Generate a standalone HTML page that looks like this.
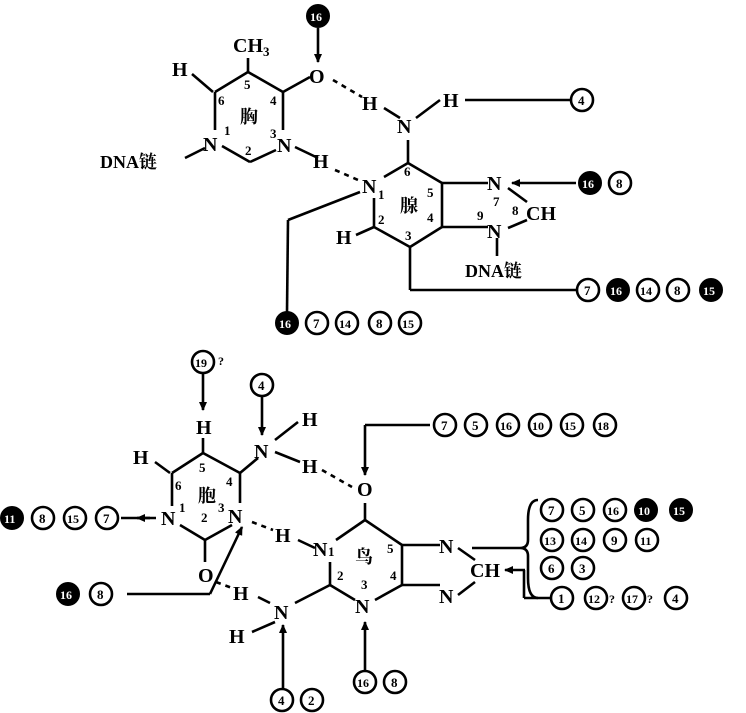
<!DOCTYPE html>
<html><head><meta charset="utf-8"><style>
html,body{margin:0;padding:0;background:#fff}
svg{display:block}
text{font-family:"Liberation Serif","Noto Serif CJK SC",serif;font-weight:bold;fill:#000}
.c{fill:#fff;stroke:#000;stroke-width:2.6}
.f{fill:#000;stroke:#000;stroke-width:2}
.l{stroke:#000;stroke-width:2.6;fill:none}
.d{stroke:#000;stroke-width:2.6;stroke-dasharray:5,5;fill:none}
.n{font-size:13px}
</style></head><body>
<svg width="746" height="713" viewBox="0 0 746 713" xmlns="http://www.w3.org/2000/svg">
<defs><marker id="a" markerWidth="9" markerHeight="8" refX="8" refY="4" orient="auto" markerUnits="userSpaceOnUse"><path d="M0,0 L9,4 L0,8 z" fill="#000"/></marker></defs>

<!-- ===== TOP: thymine ===== -->
<g class="l">
<line x1="248" y1="72" x2="283" y2="92"/><line x1="283" y1="92" x2="283" y2="130"/>
<line x1="276" y1="150" x2="250" y2="162"/><line x1="250" y1="162" x2="222" y2="146"/>
<line x1="215" y1="130" x2="215" y2="92"/><line x1="215" y1="92" x2="248" y2="72"/>
<line x1="248" y1="72" x2="248" y2="58"/><line x1="213" y1="92" x2="192" y2="74"/>
<line x1="283" y1="92" x2="310" y2="77"/><line x1="205" y1="148" x2="185" y2="158"/>
<line x1="295" y1="147" x2="318" y2="158"/>
<line x1="318" y1="28" x2="318" y2="62" marker-end="url(#a)"/>
</g>
<line class="d" x1="333" y1="80" x2="362" y2="97"/>
<line class="d" x1="335" y1="170" x2="358" y2="180"/>
<text x="233" y="52" font-size="20">CH<tspan font-size="13" dy="4">3</tspan></text>
<text x="172" y="76" font-size="20">H</text>
<text x="309" y="83" font-size="20">O</text>
<text x="203" y="151" font-size="20">N</text>
<text x="277" y="152" font-size="20">N</text>
<text x="313" y="168" font-size="20">H</text>
<text x="100" y="168" font-size="18">DNA链</text>
<text x="240" y="123" font-size="18">胸</text>
<text class="n" x="244" y="89">5</text><text class="n" x="218" y="105">6</text>
<text class="n" x="270" y="105">4</text><text class="n" x="224" y="135">1</text>
<text class="n" x="270" y="138">3</text><text class="n" x="245" y="155">2</text>
<circle class="f" cx="318" cy="16" r="11"/><text x="310" y="21" font-size="12" style="fill:#fff">16</text>

<!-- ===== TOP: adenine ===== -->
<g class="l">
<line x1="408" y1="163" x2="442" y2="183"/><line x1="442" y1="183" x2="442" y2="227"/>
<line x1="442" y1="227" x2="410" y2="247"/><line x1="410" y1="247" x2="374" y2="227"/>
<line x1="374" y1="227" x2="374" y2="198"/><line x1="384" y1="177" x2="408" y2="163"/>
<line x1="408" y1="163" x2="408" y2="140"/>
<line x1="400" y1="118" x2="384" y2="108"/><line x1="416" y1="118" x2="440" y2="100"/>
<line x1="374" y1="227" x2="356" y2="235"/>
<line x1="442" y1="183" x2="488" y2="183"/><line x1="442" y1="227" x2="488" y2="227"/>
<line x1="508" y1="188" x2="527" y2="202"/><line x1="508" y1="228" x2="527" y2="220"/>
<line x1="497" y1="238" x2="497" y2="256"/>
<line x1="465" y1="100" x2="570" y2="100"/>
<line x1="576" y1="183" x2="512" y2="183" marker-end="url(#a)"/>
<line x1="360" y1="192" x2="288" y2="220"/><line x1="288" y1="220" x2="287" y2="312"/>
<line x1="410" y1="247" x2="410" y2="290"/><line x1="410" y1="290" x2="576" y2="290"/>
</g>
<text x="397" y="133" font-size="20">N</text>
<text x="362" y="110" font-size="20">H</text>
<text x="443" y="107" font-size="20">H</text>
<text x="362" y="193" font-size="20">N</text><text class="n" x="378" y="199">1</text>
<text x="336" y="244" font-size="20">H</text>
<text x="400" y="212" font-size="18">腺</text>
<text class="n" x="404" y="176">6</text><text class="n" x="427" y="197">5</text>
<text class="n" x="427" y="222">4</text><text class="n" x="378" y="224">2</text>
<text class="n" x="405" y="240">3</text>
<text x="487" y="190" font-size="20">N</text><text class="n" x="493" y="206">7</text>
<text class="n" x="477" y="220">9</text>
<text x="487" y="238" font-size="20">N</text>
<text class="n" x="512" y="215">8</text>
<text x="526" y="220" font-size="20">CH</text>
<text x="465" y="277" font-size="18">DNA链</text>
<circle class="c" cx="582" cy="100" r="11"/><text x="578" y="105" font-size="13">4</text>
<circle class="f" cx="590" cy="183" r="11"/><text x="582" y="188" font-size="12" style="fill:#fff">16</text>
<circle class="c" cx="620" cy="183" r="11"/><text x="616" y="188" font-size="13">8</text>
<g>
<circle class="c" cx="588" cy="290" r="11"/><text x="584" y="295" font-size="13">7</text>
<circle class="f" cx="618" cy="290" r="11"/><text x="610" y="295" font-size="12" style="fill:#fff">16</text>
<circle class="c" cx="648" cy="290" r="11"/><text x="640" y="295" font-size="12">14</text>
<circle class="c" cx="678" cy="290" r="11"/><text x="674" y="295" font-size="13">8</text>
<circle class="f" cx="711" cy="290" r="11"/><text x="703" y="295" font-size="12" style="fill:#fff">15</text>
</g>
<g>
<circle class="f" cx="287" cy="323" r="11"/><text x="279" y="328" font-size="12" style="fill:#fff">16</text>
<circle class="c" cx="317" cy="323" r="11"/><text x="313" y="328" font-size="13">7</text>
<circle class="c" cx="347" cy="323" r="11"/><text x="339" y="328" font-size="12">14</text>
<circle class="c" cx="380" cy="323" r="11"/><text x="376" y="328" font-size="13">8</text>
<circle class="c" cx="410" cy="323" r="11"/><text x="402" y="328" font-size="12">15</text>
</g>

<!-- ===== BOTTOM: cytosine ===== -->
<g class="l">
<line x1="203" y1="453" x2="240" y2="473"/><line x1="240" y1="473" x2="240" y2="503"/>
<line x1="232" y1="525" x2="205" y2="540"/><line x1="205" y1="540" x2="180" y2="525"/>
<line x1="172" y1="506" x2="172" y2="473"/><line x1="172" y1="473" x2="203" y2="453"/>
<line x1="203" y1="453" x2="203" y2="438"/><line x1="170" y1="473" x2="155" y2="462"/>
<line x1="240" y1="473" x2="258" y2="458"/><line x1="275" y1="440" x2="298" y2="422"/>
<line x1="275" y1="452" x2="300" y2="462"/>
<line x1="205" y1="540" x2="205" y2="562"/>
<line x1="203" y1="374" x2="203" y2="410" marker-end="url(#a)"/>
<line x1="262" y1="396" x2="262" y2="435" marker-end="url(#a)"/>
<line x1="156" y1="518" x2="121" y2="518"/>
<line x1="150" y1="518" x2="137" y2="518" marker-end="url(#a)"/>
<line x1="127" y1="594" x2="210" y2="594"/><line x1="210" y1="594" x2="242" y2="527" marker-end="url(#a)"/>
<line x1="270" y1="603" x2="258" y2="597"/><line x1="275" y1="622" x2="252" y2="632"/>
<line x1="283" y1="690" x2="283" y2="625" marker-end="url(#a)"/>
</g>
<line class="d" x1="322" y1="470" x2="352" y2="487"/>
<line class="d" x1="252" y1="522" x2="273" y2="530"/>
<line class="d" x1="216" y1="582" x2="232" y2="588"/>
<circle class="c" cx="203" cy="362" r="11"/><text x="195" y="367" font-size="12">19</text><text x="218" y="365" font-size="12">?</text>
<circle class="c" cx="262" cy="385" r="11"/><text x="258" y="390" font-size="13">4</text>
<text x="196" y="434" font-size="20">H</text>
<text x="133" y="464" font-size="20">H</text>
<text x="254" y="458" font-size="20">N</text>
<text x="302" y="426" font-size="20">H</text>
<text x="302" y="473" font-size="20">H</text>
<text x="198" y="502" font-size="18">胞</text>
<text class="n" x="199" y="472">5</text><text class="n" x="175" y="490">6</text>
<text class="n" x="226" y="486">4</text><text class="n" x="179" y="512">1</text>
<text class="n" x="218" y="512">3</text><text class="n" x="201" y="522">2</text>
<text x="161" y="525" font-size="20">N</text>
<text x="228" y="523" font-size="20">N</text>
<text x="198" y="582" font-size="20">O</text>
<g>
<circle class="f" cx="12" cy="518" r="11"/><text x="4" y="523" font-size="12" style="fill:#fff">11</text>
<circle class="c" cx="43" cy="518" r="11"/><text x="39" y="523" font-size="13">8</text>
<circle class="c" cx="75" cy="518" r="11"/><text x="67" y="523" font-size="12">15</text>
<circle class="c" cx="107" cy="518" r="11"/><text x="103" y="523" font-size="13">7</text>
<circle class="f" cx="68" cy="594" r="11"/><text x="60" y="599" font-size="12" style="fill:#fff">16</text>
<circle class="c" cx="101" cy="594" r="11"/><text x="97" y="599" font-size="13">8</text>
</g>

<!-- ===== BOTTOM: guanine ===== -->
<g class="l">
<line x1="365" y1="503" x2="365" y2="520"/>
<line x1="365" y1="520" x2="402" y2="545"/><line x1="402" y1="545" x2="402" y2="585"/>
<line x1="402" y1="585" x2="375" y2="600"/><line x1="355" y1="600" x2="330" y2="585"/>
<line x1="330" y1="585" x2="330" y2="562"/><line x1="336" y1="540" x2="365" y2="520"/>
<line x1="330" y1="585" x2="295" y2="603"/>
<line x1="298" y1="540" x2="315" y2="548"/>
<line x1="402" y1="545" x2="440" y2="545"/><line x1="402" y1="585" x2="440" y2="585"/>
<line x1="458" y1="548" x2="475" y2="560"/><line x1="458" y1="595" x2="475" y2="582"/>
<line x1="430" y1="425" x2="365" y2="425"/><line x1="365" y1="425" x2="365" y2="475" marker-end="url(#a)"/>
<line x1="365" y1="670" x2="365" y2="622" marker-end="url(#a)"/>
<line x1="472" y1="548" x2="520" y2="548"/>
<line x1="525" y1="570" x2="505" y2="570" marker-end="url(#a)"/>
<line x1="524" y1="570" x2="524" y2="598"/><line x1="524" y1="598" x2="551" y2="598"/>
<path d="M538,500 Q528,500 528,520 L528,540 Q528,548 520,548 Q528,548 528,556 L528,578 Q528,598 538,598"/>
</g>
<text x="357" y="496" font-size="20">O</text>
<text x="275" y="542" font-size="20">H</text>
<text x="313" y="556" font-size="20">N</text><text class="n" x="328" y="556">1</text>
<text x="355" y="563" font-size="18">鸟</text>
<text class="n" x="387" y="553">5</text><text class="n" x="390" y="580">4</text>
<text class="n" x="337" y="580">2</text><text class="n" x="361" y="589">3</text>
<text x="355" y="613" font-size="20">N</text>
<text x="274" y="619" font-size="20">N</text>
<text x="233" y="600" font-size="20">H</text>
<text x="229" y="643" font-size="20">H</text>
<text x="439" y="553" font-size="20">N</text>
<text x="439" y="603" font-size="20">N</text>
<text x="470" y="577" font-size="20">CH</text>
<g>
<circle class="c" cx="445" cy="425" r="11"/><text x="441" y="430" font-size="13">7</text>
<circle class="c" cx="476" cy="425" r="11"/><text x="472" y="430" font-size="13">5</text>
<circle class="c" cx="508" cy="425" r="11"/><text x="500" y="430" font-size="12">16</text>
<circle class="c" cx="540" cy="425" r="11"/><text x="532" y="430" font-size="12">10</text>
<circle class="c" cx="572" cy="425" r="11"/><text x="564" y="430" font-size="12">15</text>
<circle class="c" cx="605" cy="425" r="11"/><text x="597" y="430" font-size="12">18</text>

<circle class="c" cx="552" cy="510" r="11"/><text x="548" y="515" font-size="13">7</text>
<circle class="c" cx="583" cy="510" r="11"/><text x="579" y="515" font-size="13">5</text>
<circle class="c" cx="615" cy="510" r="11"/><text x="607" y="515" font-size="12">16</text>
<circle class="f" cx="646" cy="510" r="11"/><text x="638" y="515" font-size="12" style="fill:#fff">10</text>
<circle class="f" cx="681" cy="510" r="11"/><text x="673" y="515" font-size="12" style="fill:#fff">15</text>
<circle class="c" cx="552" cy="540" r="11"/><text x="544" y="545" font-size="12">13</text>
<circle class="c" cx="583" cy="540" r="11"/><text x="575" y="545" font-size="12">14</text>
<circle class="c" cx="615" cy="540" r="11"/><text x="611" y="545" font-size="13">9</text>
<circle class="c" cx="647" cy="540" r="11"/><text x="640" y="545" font-size="12">11</text>
<circle class="c" cx="552" cy="568" r="11"/><text x="548" y="573" font-size="13">6</text>
<circle class="c" cx="583" cy="568" r="11"/><text x="579" y="573" font-size="13">3</text>

<circle class="c" cx="562" cy="598" r="11"/><text x="558" y="603" font-size="13">1</text>
<circle class="c" cx="596" cy="598" r="11"/><text x="588" y="603" font-size="12">12</text><text x="609" y="603" font-size="12">?</text>
<circle class="c" cx="634" cy="598" r="11"/><text x="626" y="603" font-size="12">17</text><text x="647" y="603" font-size="12">?</text>
<circle class="c" cx="676" cy="598" r="11"/><text x="672" y="603" font-size="13">4</text>

<circle class="c" cx="365" cy="682" r="11"/><text x="357" y="687" font-size="12">16</text>
<circle class="c" cx="395" cy="682" r="11"/><text x="391" y="687" font-size="13">8</text>
<circle class="c" cx="282" cy="700" r="11"/><text x="278" y="705" font-size="13">4</text>
<circle class="c" cx="312" cy="700" r="11"/><text x="308" y="705" font-size="13">2</text>
</g>
</svg>
</body></html>
